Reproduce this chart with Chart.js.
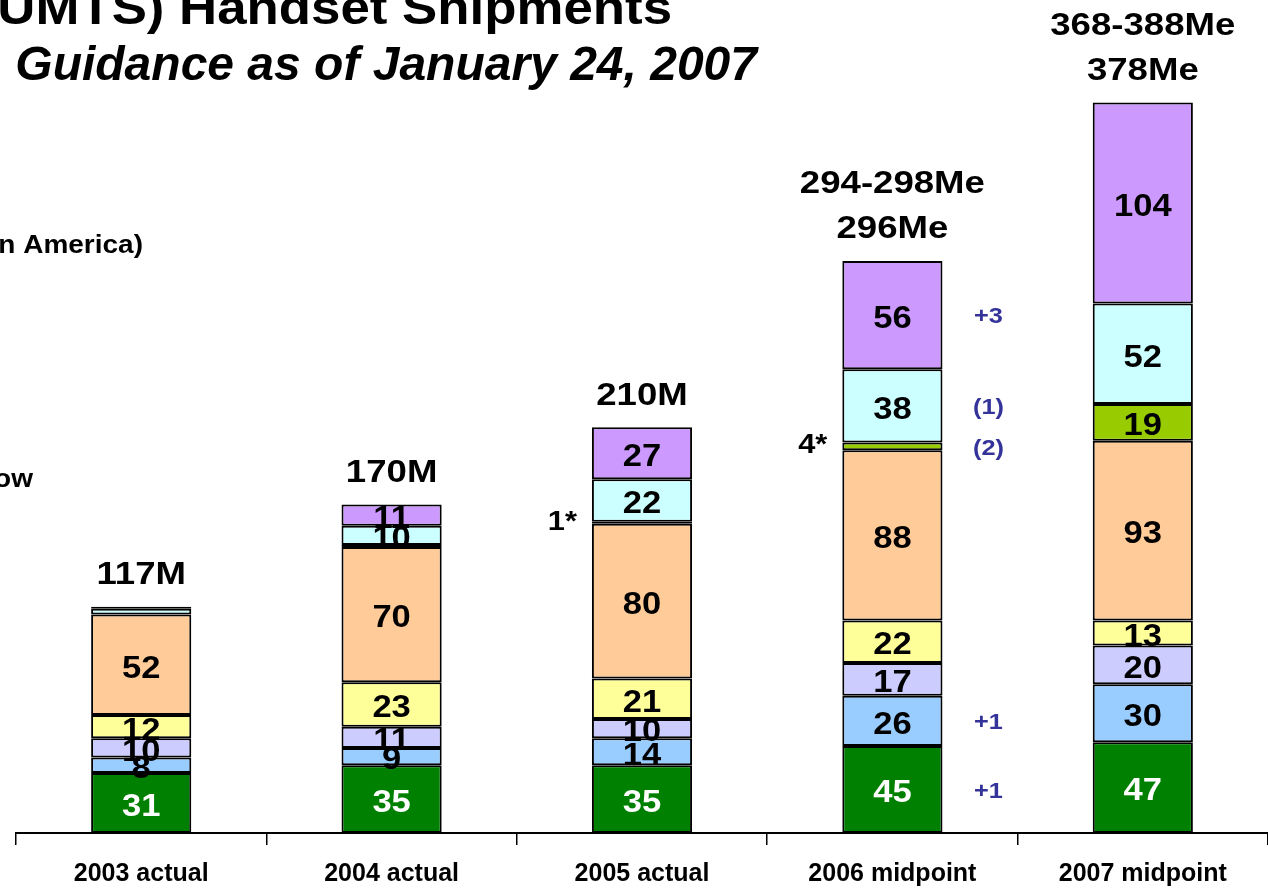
<!DOCTYPE html>
<html>
<head>
<meta charset="utf-8">
<script src="https://cdn.jsdelivr.net/npm/chart.js@4/dist/chart.umd.min.js"></script>
<style>
html, body { margin: 0; padding: 0; background: #fff; overflow: hidden; }
#wrap { position: relative; width: 1268px; height: 890px; }
</style>
</head>
<body>
<div id="wrap"><canvas id="chart"></canvas></div>
<script>
const categories = ['2003 actual', '2004 actual', '2005 actual', '2006 midpoint', '2007 midpoint']

// stacked segments, bottom to top
const green = [31, 35, 35, 45, 47]
const blue = [8, 9, 14, 26, 30]
const lavender = [10, 11, 10, 17, 20]
const yellow = [12, 23, 21, 22, 13]
const peach = [52, 70, 80, 88, 93]
const lime = [0, 1, 1, 4, 19]
const cyan = [3, 10, 22, 38, 52]
const purple = [1, 11, 27, 56, 104]

const totalLabels = [['117M'], ['170M'], ['210M'], ['294-298Me', '296Me'], ['368-388Me', '378Me']]
const limeNotes = ['', '', '1*', '4*', '']
// change vs. previous guidance, 2006 bar, same order as the series
const changes2006 = ['+1', '+1', '', '', '', '(2)', '(1)', '+3']

const FONT = '"Liberation Sans", Arial, sans-serif'
Chart.defaults.font.family = FONT

const series = [
    { label: 'green', data: green, color: '#008000' },
    { label: 'blue', data: blue, color: '#99ccff' },
    { label: 'lavender', data: lavender, color: '#ccccff' },
    { label: 'yellow', data: yellow, color: '#ffff99' },
    { label: 'peach', data: peach, color: '#ffcc99' },
    { label: 'lime', data: lime, color: '#99cc00' },
    { label: 'cyan', data: cyan, color: '#ccffff' },
    { label: 'purple', data: purple, color: '#cc99ff' },
]

// the slide text is a bit wider than the plain font
function wideText(ctx, text, x, y, sx) {
    ctx.save()
    ctx.translate(x, y)
    ctx.scale(sx, 1)
    ctx.fillText(text, 0, 0)
    ctx.restore()
}

const textPlugin = {
    id: 'textPlugin',
    afterDatasetsDraw(chart) {
        const ctx = chart.ctx
        ctx.save()
        ctx.textAlign = 'center'
        ctx.textBaseline = 'middle'

        chart.data.datasets.forEach((ds, i) => {
            const meta = chart.getDatasetMeta(i)
            meta.data.forEach((bar, j) => {
                const v = ds.data[j]
                const mid = (bar.y + bar.base) / 2
                if (v >= 5) {
                    ctx.font = 'bold 32px ' + FONT
                    ctx.fillStyle = i === 0 ? '#fff' : '#000'
                    wideText(ctx, String(v), bar.x, mid + 4, 1.08)
                }
                if (i === 5 && limeNotes[j]) {
                    ctx.font = 'bold 28px ' + FONT
                    ctx.fillStyle = '#000'
                    ctx.textAlign = 'right'
                    wideText(ctx, limeNotes[j], bar.x - bar.width / 2 - 15, mid - 1, 1.1)
                    ctx.textAlign = 'center'
                }
                if (j === 3 && changes2006[i]) {
                    ctx.font = 'bold 22px ' + FONT
                    ctx.fillStyle = '#333399'
                    wideText(ctx, changes2006[i], bar.x + bar.width / 2 + 46, mid + 2, 1.15)
                }
            })
        })

        // totals above each stack
        const top = chart.getDatasetMeta(chart.data.datasets.length - 1)
        ctx.font = 'bold 31px ' + FONT
        ctx.fillStyle = '#000'
        top.data.forEach((bar, j) => {
            const lines = totalLabels[j]
            lines.forEach((t, k) => {
                wideText(ctx, t, bar.x, bar.y - 31 - (lines.length - 1 - k) * 45, 1.18)
            })
        })

        // heading and left-hand notes, cut by the page edge
        ctx.textBaseline = 'alphabetic'
        ctx.textAlign = 'right'
        ctx.font = 'bold 48px ' + FONT
        wideText(ctx, '(UMTS) Handset Shipments', 672, 24, 1.1)
        ctx.font = 'italic bold 48px ' + FONT
        ctx.fillText('Guidance as of January 24, 2007', 757, 80)
        ctx.font = 'bold 25px ' + FONT
        wideText(ctx, 'n America)', 143, 253, 1.12)
        wideText(ctx, 'ow', 33, 487, 1.12)
        ctx.restore()
    }
}

const ctx = document.getElementById('chart').getContext('2d')

const chart = new Chart(ctx, {
    type: 'bar',
    data: {
        labels: categories,
        datasets: series.map(s => ({
            label: s.label,
            data: s.data,
            backgroundColor: s.color,
            borderColor: '#000',
            borderWidth: 2,
            borderSkipped: false,
            barPercentage: 0.4,
            categoryPercentage: 1,
        }))
    },
    options: {
        responsive: true,
        maintainAspectRatio: false,
        animation: false,
        layout: { padding: { left: 16, right: 0, top: 0, bottom: 0 } },
        plugins: {
            legend: { display: false },
            tooltip: { enabled: false },
        },
        scales: {
            x: {
                stacked: true,
                border: { color: '#000', width: 2 },
                grid: { drawOnChartArea: false, drawTicks: true, tickLength: 12, color: '#000', lineWidth: 1.5, offset: true },
                ticks: { color: '#000', font: { size: 25, weight: 'bold' }, padding: 14, maxRotation: 0 },
                afterFit(axis) { axis.height = 57 },
            },
            y: {
                stacked: true,
                display: false,
                min: 0,
                max: 431,
            }
        }
    },
    plugins: [textPlugin]
})
</script>
</body>
</html>
